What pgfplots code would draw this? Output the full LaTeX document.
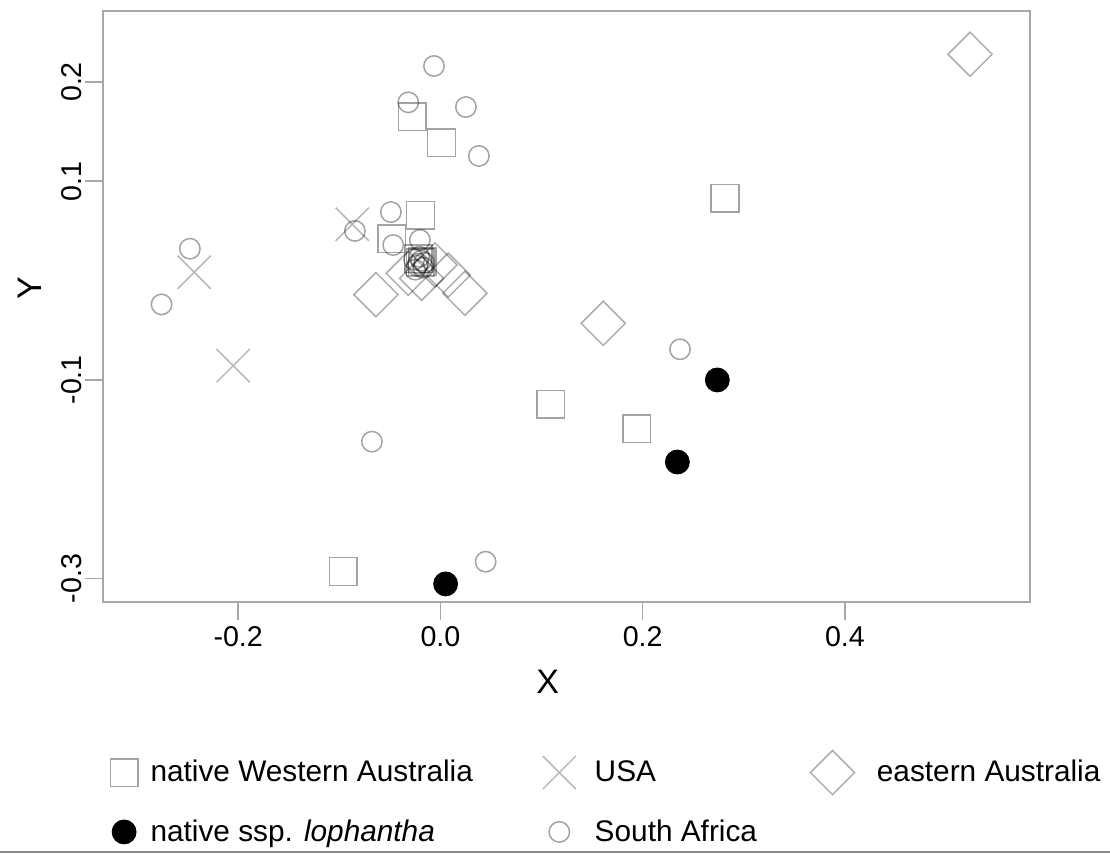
\documentclass[border=0pt]{standalone}
\usepackage{pgfplots}
\pgfplotsset{compat=1.18}
\usepackage{pgfplotstable}
\usepackage{fontspec}
\setmainfont{Liberation Sans}

\definecolor{framegray}{HTML}{A8A8A8}
\definecolor{rulegray}{HTML}{8C8C8C}

% legend images: the mark alone, with a given room on both sides
\pgfplotsset{
  marklegend/.style={
    legend image code/.code={%
      \path (-#1,0pt) (#1,0pt);
      \draw[##1] plot coordinates {(0pt,0pt)};
    }
  }
}

% ordination scores, one table per group
\pgfplotstableread{
x y
-0.028 0.165
0.001 0.139
-0.0197 0.0658
-0.048 0.042
-0.022 0.022
-0.018 0.019
-0.020 0.018
0.2814 0.083
0.1091 -0.1245
0.194 -0.1494
-0.0962 -0.293
}\westaus

\pgfplotstableread{
x y
-0.0872 0.0567
-0.2435 0.0084
-0.205 -0.0857
}\usa

\pgfplotstableread{
x y
0.5237 0.2279
-0.0638 -0.0142
0.0242 -0.0128
0.161 -0.043
-0.0318 0.0073
-0.0186 0.0023
-0.0054 0.0157
0.0077 0.0056
}\eastaus

\pgfplotstableread{
x y
0.2738 -0.1001
0.2343 -0.1827
0.0051 -0.3055
}\lophantha

\pgfplotstableread{
x y
-0.0064 0.2161
-0.0318 0.1795
0.0252 0.1748
0.038 0.1255
-0.049 0.069
-0.0846 0.050
-0.0467 0.0358
-0.0203 0.041
-0.2478 0.0321
-0.2758 -0.024
0.2369 -0.0692
-0.0678 -0.1622
0.0447 -0.2831
-0.022 0.017
-0.026 0.021
-0.017 0.013
-0.021 0.024
-0.016 0.018
-0.025 0.011
-0.019 0.020
-0.023 0.015
}\safrica

\begin{document}
\begin{tikzpicture}
\begin{axis}[
  name=ax,
  at={(0,0)}, anchor=south west,
  scale only axis,
  width=463.65pt, height=295.65pt,
  xmin=-0.334, xmax=0.583,
  ymin=-0.324, ymax=0.2715,
  axis line style={framegray, line width=1pt},
  tick style={framegray, line width=0.8pt},
  tick align=outside,
  major tick length=9pt,
  xtick pos=bottom, ytick pos=left,
  xtick={-0.2,0,0.2,0.4},
  xticklabels={-0.2,0.0,0.2,0.4},
  ytick={-0.3,-0.1,0.1,0.2},
  yticklabels={-0.3,-0.1,0.1,0.2},
  ticklabel style={font=\fontsize{14.3pt}{16pt}\selectfont},
  xticklabel style={inner sep=3pt},
  yticklabel style={rotate=90, anchor=south, inner sep=1.5pt},
  xlabel={X}, ylabel={Y},
  label style={font=\fontsize{17pt}{19pt}\selectfont},
  xlabel style={at={(axis description cs:0.48,0)}, anchor=center, yshift=-40pt},
  ylabel style={at={(axis description cs:-0.0783,0.532)}, anchor=center},
  legend columns=3,
  legend cell align=left,
  legend style={
    draw=none, fill=none, inner sep=0pt,
    at={(axis description cs:-0.0015,-0.25)}, anchor=north west,
    font=\fontsize{14.9pt}{17pt}\selectfont,
    /tikz/column 2/.style={column sep=25.5pt},
    /tikz/column 4/.style={column sep=15.5pt},
    /tikz/row sep=10.5pt,
  },
]
\addplot[only marks, mark=square, mark size=6.9pt, marklegend=11pt,
  mark options={draw=black, draw opacity=0.36, line width=0.75pt}]
  table {\westaus};
\addlegendentry{native Western Australia}

\addplot[only marks, mark=x, mark size=11.7pt, marklegend=15.5pt,
  mark options={draw=black, draw opacity=0.28, line width=0.75pt}]
  table {\usa};
\addlegendentry{USA}

\addplot[only marks, mark=square, mark size=7.8pt, marklegend=20pt,
  mark options={rotate=45, draw=black, draw opacity=0.32, line width=0.75pt}]
  table {\eastaus};
\addlegendentry{eastern Australia}

\addplot[only marks, mark=*, mark size=6pt, marklegend=11pt,
  mark options={draw=black, fill=black}]
  table {\lophantha};
\addlegendentry{native ssp. \textit{lophantha}}

\addplot[only marks, mark=o, mark size=5.1pt, marklegend=15.5pt,
  mark options={draw=black, draw opacity=0.36, line width=0.75pt}]
  table {\safrica};
\addlegendentry{South Africa}
\end{axis}
\draw[rulegray, line width=1pt] (-51.35pt,-124.85pt) -- (503.65pt,-124.85pt);
\pgfresetboundingbox
\path[use as bounding box] (-51.35pt,-126.35pt) rectangle (503.65pt,301.15pt);
\end{tikzpicture}
\end{document}
